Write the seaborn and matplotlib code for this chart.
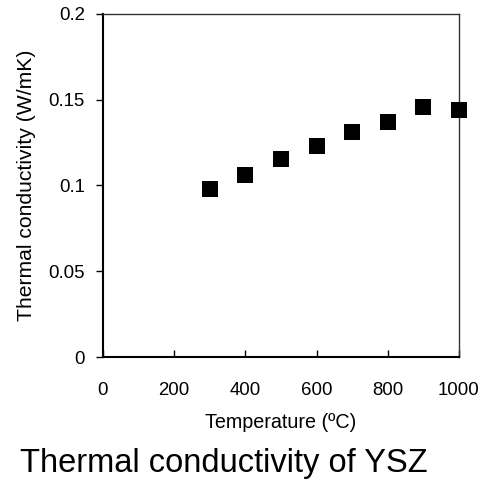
import matplotlib
matplotlib.use("Agg")
import matplotlib.pyplot as plt
import seaborn as sns
import pandas as pd

# Measured thermal conductivity of YSZ versus temperature
temperature_c = [300, 400, 500, 600, 700, 800, 900, 1000]
conductivity_w_mk = [0.098, 0.106, 0.1155, 0.123, 0.131, 0.137, 0.146, 0.144]

x_ticks = [0, 200, 400, 600, 800, 1000]
y_ticks = [0, 0.05, 0.1, 0.15, 0.2]
y_tick_labels = ["0", "0.05", "0.1", "0.15", "0.2"]

sns.set_theme(style="white")
plt.rcParams["font.family"] = ["Liberation Sans", "DejaVu Sans"]

df = pd.DataFrame({"T": temperature_c, "k": conductivity_w_mk})

fig = plt.figure(figsize=(4.95, 4.82), dpi=100)
ax = fig.add_axes([0.208, 0.2593, 0.719, 0.7117])

sns.scatterplot(data=df, x="T", y="k", ax=ax, marker="s", s=120,
                color="black", linewidth=0, clip_on=False, zorder=5)

ax.set_xlim(0, 1000)
ax.set_ylim(0, 0.2)
ax.set_xticks(x_ticks)
ax.set_xticklabels([str(v) for v in x_ticks])
ax.set_yticks(y_ticks)
ax.set_yticklabels(y_tick_labels)

ax.tick_params(axis="x", direction="in", length=5, width=1, colors="black",
               labelsize=13.4, pad=18, bottom=True)
ax.tick_params(axis="y", direction="out", length=5, width=1, colors="black",
               labelsize=13.4, pad=8, left=True)

for side in ["left", "bottom"]:
    ax.spines[side].set_color("black")
    ax.spines[side].set_linewidth(1.5)
for side in ["top", "right"]:
    ax.spines[side].set_color("#333333")
    ax.spines[side].set_linewidth(1.0)

ax.set_xlabel("Temperature (ºC)", fontsize=14.2, labelpad=10, color="black")
ax.set_ylabel("Thermal conductivity (W/mK)", fontsize=15.2, labelpad=9, color="black")
ax.grid(False)

fig.text(20 / 495, 0.0207, "Thermal conductivity of YSZ", fontsize=23.5,
         ha="left", va="baseline", color="black")

fig.savefig("out.png", dpi=100, facecolor="white")
